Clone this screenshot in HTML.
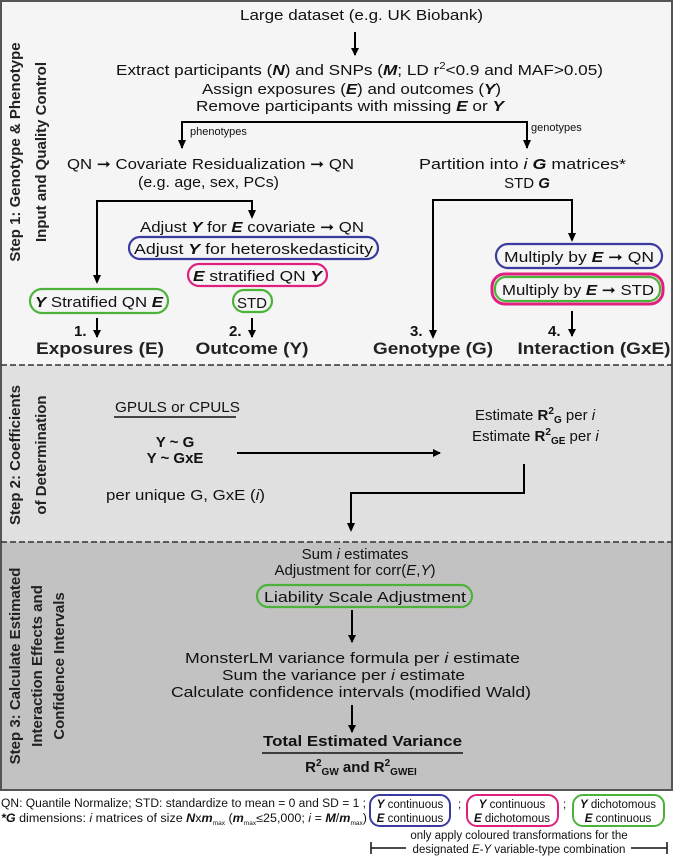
<!DOCTYPE html>
<html><head><meta charset="utf-8"><style>
body{margin:0;background:#fff}
svg{display:block;font-family:"Liberation Sans",sans-serif}
</style></head><body>
<svg width="674" height="857" viewBox="0 0 674 857" xmlns="http://www.w3.org/2000/svg">
<defs>
<marker id="ah" markerWidth="8" markerHeight="8" refX="7" refY="4" orient="auto" markerUnits="userSpaceOnUse"><path d="M0,0 L8,4 L0,8 z" fill="#000"/></marker>
</defs>
<rect x="1" y="1" width="671" height="364" fill="#f5f5f5"/>
<rect x="1" y="365" width="671" height="177" fill="#e0e0e0"/>
<rect x="1" y="542" width="671" height="248" fill="#c2c2c2"/>
<rect x="1" y="1" width="671" height="789" fill="none" stroke="#555" stroke-width="2"/>
<line x1="1" y1="365" x2="672" y2="365" stroke="#333" stroke-width="1.5" stroke-dasharray="6,3"/>
<line x1="1" y1="542" x2="672" y2="542" stroke="#333" stroke-width="1.5" stroke-dasharray="6,3"/>

<g font-weight="bold" font-size="15" fill="#222" text-anchor="middle">
<text transform="translate(20,152) rotate(-90)">Step 1: Genotype &amp; Phenotype</text>
<text transform="translate(46,152) rotate(-90)">Input and Quality Control</text>
<text transform="translate(20,455) rotate(-90)">Step 2:  Coefficients</text>
<text transform="translate(46,455) rotate(-90)">of Determination</text>
<text transform="translate(20,666) rotate(-90)">Step 3: Calculate Estimated</text>
<text transform="translate(42,666) rotate(-90)">Interaction Effects and</text>
<text transform="translate(64,666) rotate(-90)">Confidence Intervals</text>
</g>

<g font-size="15" fill="#111" lengthAdjust="spacingAndGlyphs">
<text x="240" y="20" textLength="243" lengthAdjust="spacingAndGlyphs">Large dataset (e.g. UK Biobank)</text>
<text x="116" y="75" textLength="487" lengthAdjust="spacingAndGlyphs">Extract participants (<tspan font-weight="bold" font-style="italic">N</tspan>) and SNPs (<tspan font-weight="bold" font-style="italic">M</tspan>; LD r<tspan font-size="10" dy="-6">2</tspan><tspan dy="6">&lt;0.9 and MAF&gt;0.05)</tspan></text>
<text x="202" y="94" textLength="299" lengthAdjust="spacingAndGlyphs">Assign exposures (<tspan font-weight="bold" font-style="italic">E</tspan>) and outcomes (<tspan font-weight="bold" font-style="italic">Y</tspan>)</text>
<text x="196" y="111" textLength="308" lengthAdjust="spacingAndGlyphs">Remove participants with missing <tspan font-weight="bold" font-style="italic">E</tspan> or <tspan font-weight="bold" font-style="italic">Y</tspan></text>
<text x="67" y="169" textLength="287" lengthAdjust="spacingAndGlyphs">QN ➞ Covariate Residualization ➞ QN</text>
<text x="138" y="187" textLength="141" lengthAdjust="spacingAndGlyphs">(e.g. age, sex, PCs)</text>
<text x="419" y="169" textLength="207" lengthAdjust="spacingAndGlyphs">Partition into <tspan font-style="italic">i</tspan> <tspan font-weight="bold" font-style="italic">G</tspan> matrices*</text>
<text x="527" y="188" text-anchor="middle">STD <tspan font-weight="bold" font-style="italic">G</tspan></text>
<text x="140" y="232" textLength="224" lengthAdjust="spacingAndGlyphs">Adjust <tspan font-weight="bold" font-style="italic">Y</tspan> for <tspan font-weight="bold" font-style="italic">E</tspan> covariate ➞ QN</text>
<text x="134" y="254" textLength="239" lengthAdjust="spacingAndGlyphs">Adjust <tspan font-weight="bold" font-style="italic">Y</tspan> for heteroskedasticity</text>
<text x="193" y="281" textLength="129" lengthAdjust="spacingAndGlyphs"><tspan font-weight="bold" font-style="italic">E</tspan> stratified QN <tspan font-weight="bold" font-style="italic">Y</tspan></text>
<text x="252" y="308" text-anchor="middle">STD</text>
<text x="35" y="307" textLength="128" lengthAdjust="spacingAndGlyphs"><tspan font-weight="bold" font-style="italic">Y</tspan> Stratified QN <tspan font-weight="bold" font-style="italic">E</tspan></text>
<text x="504" y="262" textLength="150" lengthAdjust="spacingAndGlyphs">Multiply by <tspan font-weight="bold" font-style="italic">E</tspan> ➞ QN</text>
<text x="502" y="295" textLength="152" lengthAdjust="spacingAndGlyphs">Multiply by <tspan font-weight="bold" font-style="italic">E</tspan> ➞ STD</text>
</g>
<text x="190" y="135" font-size="11" fill="#111">phenotypes</text>
<text x="531" y="131" font-size="11" fill="#111">genotypes</text>

<g fill="none" stroke="#000" stroke-width="2">
<line x1="355" y1="32" x2="355" y2="55" marker-end="url(#ah)"/>
<polyline points="182,148 182,122 527,122 527,148" />
<polyline points="97,282 97,201 252,201 252,217"/>
<polyline points="433,337 433,200 572,200 572,240"/>
<line x1="97" y1="318" x2="97" y2="337" marker-end="url(#ah)"/>
<line x1="252" y1="318" x2="252" y2="337" marker-end="url(#ah)"/>
<line x1="572" y1="311" x2="572" y2="336" marker-end="url(#ah)"/>
<line x1="237" y1="453" x2="440" y2="453" marker-end="url(#ah)"/>
<polyline points="524,464 524,493 351,493 351,530"/>
<line x1="352" y1="610" x2="352" y2="642" marker-end="url(#ah)"/>
<line x1="352" y1="705" x2="352" y2="732" marker-end="url(#ah)"/>
</g>
<g fill="#000">
<path d="M178,140 L186,140 L182,149 z"/><path d="M523,140 L531,140 L527,149 z"/>
<path d="M93,275 L101,275 L97,284 z"/><path d="M248,210 L256,210 L252,219 z"/>
<path d="M429,330 L437,330 L433,339 z"/><path d="M568,233 L576,233 L572,242 z"/>
<path d="M347,523 L355,523 L351,532 z"/>
</g>

<g fill="none" stroke-width="2.2">
<rect x="129" y="237" width="249" height="22" rx="11" stroke="#3a3aa0"/>
<rect x="188" y="264" width="139" height="22" rx="11" stroke="#e0207f"/>
<rect x="233" y="290" width="39" height="22" rx="11" stroke="#4cb33a"/>
<rect x="30" y="289" width="138" height="24" rx="12" stroke="#4cb33a"/>
<rect x="496" y="244" width="166" height="24" rx="12" stroke="#3a3aa0"/>
<rect x="492" y="274" width="171" height="30" rx="13" stroke="#e0207f" stroke-width="3"/>
<rect x="495" y="277" width="165" height="24" rx="11" stroke="#4cb33a"/>
<rect x="257" y="585" width="215" height="22" rx="11" stroke="#4cb33a"/>
</g>

<g font-weight="bold" font-size="15" fill="#111">
<text x="74" y="336">1.</text><text x="229" y="336">2.</text>
<text x="410" y="336">3.</text><text x="548" y="336">4.</text>
</g>
<g font-weight="bold" font-size="17" fill="#222" text-anchor="middle">
<text x="100" y="354" textLength="128" lengthAdjust="spacingAndGlyphs">Exposures (E)</text>
<text x="252" y="354" textLength="113" lengthAdjust="spacingAndGlyphs">Outcome (Y)</text>
<text x="433" y="354" textLength="120" lengthAdjust="spacingAndGlyphs">Genotype (G)</text>
<text x="594" y="354" textLength="153" lengthAdjust="spacingAndGlyphs">Interaction (GxE)</text>
</g>

<g font-size="15" fill="#111">
<text x="115" y="412" textLength="125" lengthAdjust="spacingAndGlyphs">GPULS or CPULS</text>
<line x1="114" y1="417" x2="236" y2="417" stroke="#111" stroke-width="1.5"/>
<text x="175" y="447" text-anchor="middle" font-weight="bold">Y ~ G</text>
<text x="175" y="463" text-anchor="middle" font-weight="bold">Y ~ GxE</text>
<text x="106" y="500" textLength="159" lengthAdjust="spacingAndGlyphs">per unique G, GxE (<tspan font-style="italic">i</tspan>)</text>
<text x="475" y="420">Estimate <tspan font-weight="bold">R<tspan font-size="10" dy="-6">2</tspan><tspan font-size="10" dy="9">G</tspan></tspan><tspan dy="-3"> per </tspan><tspan font-style="italic">i</tspan></text>
<text x="472" y="441">Estimate <tspan font-weight="bold">R<tspan font-size="10" dy="-6">2</tspan><tspan font-size="10" dy="9">GE</tspan></tspan><tspan dy="-3"> per </tspan><tspan font-style="italic">i</tspan></text>
<text x="355" y="559" text-anchor="middle">Sum <tspan font-style="italic">i</tspan> estimates</text>
<text x="355" y="575" text-anchor="middle">Adjustment for corr(<tspan font-style="italic">E</tspan>,<tspan font-style="italic">Y</tspan>)</text>
<text x="264" y="602" textLength="202" lengthAdjust="spacingAndGlyphs">Liability Scale Adjustment</text>
<text x="185" y="663" textLength="335" lengthAdjust="spacingAndGlyphs">MonsterLM variance formula per <tspan font-style="italic">i</tspan> estimate</text>
<text x="222" y="680" textLength="243" lengthAdjust="spacingAndGlyphs">Sum the variance per <tspan font-style="italic">i</tspan> estimate</text>
<text x="171" y="697" textLength="360" lengthAdjust="spacingAndGlyphs">Calculate confidence intervals (modified Wald)</text>
<text x="263" y="746" textLength="199" lengthAdjust="spacingAndGlyphs" font-weight="bold">Total Estimated Variance</text>
<line x1="262" y1="753" x2="463" y2="753" stroke="#111" stroke-width="1.5"/>
<text x="361" y="772" text-anchor="middle" font-weight="bold">R<tspan font-size="10" dy="-6">2</tspan><tspan font-size="10" dy="9">GW</tspan><tspan dy="-3"> and R</tspan><tspan font-size="10" dy="-6">2</tspan><tspan font-size="10" dy="9">GWEI</tspan></text>
</g>

<g font-size="11.5" fill="#111">
<text x="1" y="807" textLength="365" lengthAdjust="spacingAndGlyphs">QN: Quantile Normalize; STD: standardize to mean = 0 and SD = 1 ;</text>
<text x="1" y="822" textLength="366" lengthAdjust="spacingAndGlyphs"><tspan font-weight="bold" font-style="italic">*G</tspan> dimensions: <tspan font-style="italic">i</tspan> matrices of size <tspan font-weight="bold" font-style="italic">N</tspan>x<tspan font-weight="bold" font-style="italic">m</tspan><tspan font-size="6" dy="3">max</tspan><tspan dy="-3"> (</tspan><tspan font-weight="bold" font-style="italic">m</tspan><tspan font-size="6" dy="3">max</tspan><tspan dy="-3">≤25,000; </tspan><tspan font-style="italic">i</tspan> = <tspan font-weight="bold" font-style="italic">M</tspan>/<tspan font-weight="bold" font-style="italic">m</tspan><tspan font-size="6" dy="3">max</tspan><tspan dy="-3">)</tspan></text>
<g text-anchor="middle">
<text x="410" y="808"><tspan font-weight="bold" font-style="italic">Y</tspan> continuous</text>
<text x="410" y="822"><tspan font-weight="bold" font-style="italic">E</tspan> continuous</text>
<text x="512" y="808"><tspan font-weight="bold" font-style="italic">Y</tspan> continuous</text>
<text x="512" y="822"><tspan font-weight="bold" font-style="italic">E</tspan> dichotomous</text>
<text x="618" y="808"><tspan font-weight="bold" font-style="italic">Y</tspan> dichotomous</text>
<text x="618" y="822"><tspan font-weight="bold" font-style="italic">E</tspan> continuous</text>
<text x="519" y="839">only apply coloured transformations for the</text>
<text x="519" y="853">designated <tspan font-style="italic">E</tspan>-<tspan font-style="italic">Y</tspan> variable-type combination</text>
</g>
<text x="458" y="808">;</text><text x="563" y="808">;</text>
</g>
<g fill="none" stroke-width="2">
<rect x="370" y="795" width="80" height="31" rx="10" stroke="#3a3aa0"/>
<rect x="467" y="795" width="91" height="31" rx="10" stroke="#e0207f"/>
<rect x="573" y="795" width="91" height="31" rx="10" stroke="#4cb33a"/>
</g>
<g stroke="#111" stroke-width="1.5">
<line x1="371" y1="848" x2="406" y2="848"/><line x1="631" y1="848" x2="667" y2="848"/>
<line x1="371" y1="842" x2="371" y2="854"/><line x1="667" y1="842" x2="667" y2="854"/>
</g>
</svg>
</body></html>
